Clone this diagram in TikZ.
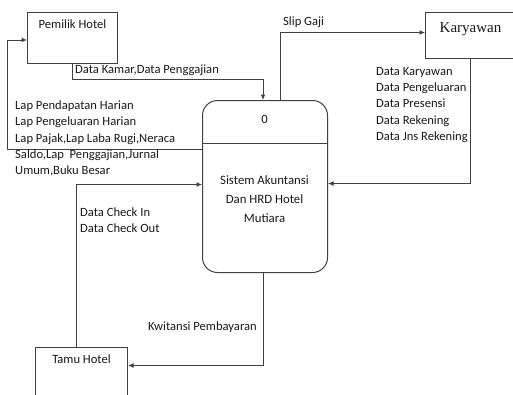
\documentclass[tikz,border=0pt]{standalone}
\usepackage{fontspec}
\setmainfont{Carlito}
\newfontfamily\serifface{Liberation Serif}
\usetikzlibrary{arrows.meta}

\begin{document}
\begin{tikzpicture}[x=1pt, y=-1pt,
	entity/.style={draw=black!75, line width=1pt, minimum width=90pt, inner sep=0pt},
	flow/.style={draw=black!75, line width=1pt, -{Latex[length=5.5pt,width=5pt]}},
	lbl/.style={font={\fontsize{12.6}{16.3}\selectfont}, text=black!90, align=left, inner sep=0pt},
	]
	\useasboundingbox (0,0) rectangle (513,394);
	\clip (0,0) rectangle (513,394);

	% external entities
	\node[entity, minimum height=51pt, anchor=north west,
		label={[lbl, anchor=north, yshift=-8pt]north:Pemilik Hotel}] (pemilik) at (27,12) {};
	\node[entity, minimum height=46pt, anchor=north west,
		label={[text=black!90, font={\serifface\fontsize{15}{17}\selectfont}, anchor=north, yshift=-7pt]north:Karyawan}] (karyawan) at (425,12) {};
	\node[entity, minimum width=92pt, minimum height=56pt, anchor=north west,
		label={[lbl, anchor=north, yshift=-8pt]north:Tamu Hotel}] (tamu) at (35,347) {};

	% process
	\node[draw=black!75, line width=1pt, rounded corners=15pt, minimum width=125pt, minimum height=172pt,
		anchor=north west, inner sep=0pt] (proses) at (202,100) {};
	\draw[black!75, line width=1pt] ([yshift=-43pt]proses.north west) -- ([yshift=-43pt]proses.north east);
	\node[lbl] (nomor) at (264.5,119) {0};
	\node[lbl, align=center, font={\fontsize{12.8}{19}\selectfont}] (nama) at (264.5,199) {Sistem Akuntansi\\Dan HRD Hotel\\Mutiara};

	% data flows
	\draw[flow] (pemilik.south) -- ++(0,15) -| ([xshift=-2pt]proses.north);
	\draw[flow] ([xshift=15pt]proses.north) |- ([yshift=3pt]karyawan.west);
	\draw[flow] (karyawan.south) |- ([yshift=3pt]proses.east);
	\draw[flow] ([yshift=37pt]proses.west) -- ++(-195,0) |- ([yshift=-2pt]pemilik.west);
	\draw[flow] ([xshift=-5pt]tamu.north) |- ([yshift=2pt]proses.west);
	\draw[flow] ([xshift=-2pt]proses.south) |- ([yshift=10pt]tamu.east);

	% flow labels
	\node[lbl, anchor=west] (lblkamar) at (75,70) {Data Kamar,Data Penggajian};
	\node[lbl, anchor=west] (lblslip) at (283,22) {Slip Gaji};
	\node[lbl, anchor=west] (lbllap) at (15,138.5) {Lap Pendapatan Harian\\Lap Pengeluaran Harian\\Lap Pajak,Lap Laba Rugi,Neraca\\Saldo,Lap\ \ Penggajian,Jurnal\\Umum,Buku Besar};
	\node[lbl, anchor=west] (lbldata) at (376,105) {Data Karyawan\\Data Pengeluaran\\Data Presensi\\Data Rekening\\Data Jns Rekening};
	\node[lbl, anchor=west] (lblcheck) at (80,220) {Data Check In\\Data Check Out};
	\node[lbl, anchor=west] (lblkwitansi) at (148,327) {Kwitansi Pembayaran};

\end{tikzpicture}
\end{document}
